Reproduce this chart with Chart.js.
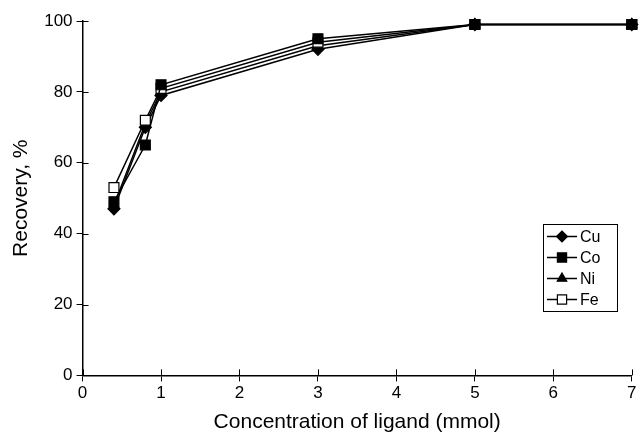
<!DOCTYPE html>
<html>
<head>
<meta charset="utf-8">
<script src="https://cdn.jsdelivr.net/npm/chart.js@4.4.1/dist/chart.umd.min.js"></script>
<style>
  html, body { margin: 0; padding: 0; background: #fff; }
  #wrap { width: 640px; height: 435px; position: relative; }
</style>
</head>
<body>
<div id="wrap"><canvas id="recovery-chart"></canvas></div>
<script>
// Recovery vs ligand concentration
const ligand = [0.4, 0.8, 1, 3, 5, 7];
const cu = [47, 70, 79, 92, 99, 99];
const co = [49, 65, 82, 95, 99, 99];
const ni = [48, 71, 80, 93, 99, 99];
const fe = [53, 72, 81, 94, 99, 99];

const xTicks = [0, 1, 2, 3, 4, 5, 6, 7];
const yTicks = [0, 20, 40, 60, 80, 100];

const FONT = "'Liberation Sans', Arial, sans-serif";

const toPoints = (vals) => vals.map((v, i) => ({ x: ligand[i], y: v }));

const series = (label, vals, style, fill, radius, order) => ({
  label,
  data: toPoints(vals),
  borderColor: "#000",
  borderWidth: 1.5,
  pointStyle: style,
  pointRadius: radius,
  pointBackgroundColor: fill,
  pointBorderColor: "#000",
  pointBorderWidth: 1.2,
  clip: false,
  order,
});

// inward tick marks and the boxed legend
const extras = {
  id: "extras",
  afterDraw(chart) {
    const { ctx, chartArea, scales } = chart;
    ctx.save();
    ctx.strokeStyle = "#000";
    ctx.lineWidth = 1;
    xTicks.forEach((t) => {
      const x = Math.round(scales.x.getPixelForValue(t)) + 0.5;
      ctx.beginPath();
      ctx.moveTo(x, chartArea.bottom);
      ctx.lineTo(x, chartArea.bottom - 6);
      ctx.stroke();
    });
    yTicks.forEach((t) => {
      const y = Math.round(scales.y.getPixelForValue(t)) + 0.5;
      ctx.beginPath();
      ctx.moveTo(chartArea.left, y);
      ctx.lineTo(chartArea.left + 6, y);
      ctx.stroke();
    });

    // legend
    const lx = 543, ly = 224, lw = 74, lh = 87;
    ctx.lineWidth = 1;
    ctx.strokeRect(lx + 0.5, ly + 0.5, lw, lh);
    ctx.font = "16px " + FONT;
    ctx.textBaseline = "middle";
    chart.data.datasets.forEach((ds, i) => {
      const y = ly + 12.5 + i * 21;
      ctx.beginPath();
      ctx.lineWidth = 1.5;
      ctx.moveTo(lx + 4, y);
      ctx.lineTo(lx + 34, y);
      ctx.stroke();
      ctx.fillStyle = ds.pointBackgroundColor;
      ctx.lineWidth = 1.2;
      Chart.helpers.drawPoint(ctx, { pointStyle: ds.pointStyle, radius: ds.pointRadius - 0.5, borderWidth: 1.2 }, lx + 19, y);
      ctx.fillStyle = "#000";
      ctx.fillText(ds.label, lx + 37, y + 1);
    });
    ctx.restore();
  },
};

new Chart(document.getElementById("recovery-chart"), {
  type: "line",
  data: {
    datasets: [
      series("Cu", cu, "rectRot", "#000", 6, 4),
      series("Co", co, "rect", "#000", 7, 1),
      series("Ni", ni, "triangle", "#000", 6, 3),
      series("Fe", fe, "rect", "#fff", 7, 2),
    ],
  },
  options: {
    responsive: true,
    maintainAspectRatio: false,
    animation: false,
    layout: { padding: { top: 21, right: 0, left: 1, bottom: 0 } },
    plugins: {
      legend: { display: false },
      tooltip: { enabled: false },
    },
    scales: {
      x: {
        type: "linear",
        min: 0,
        max: 7,
        afterBuildTicks: (axis) => { axis.ticks = xTicks.map((v) => ({ value: v })); },
        grid: { drawOnChartArea: false, color: "#000", tickLength: 6, tickColor: "#000" },
        border: { color: "#000", width: 1.5 },
        ticks: { color: "#000", font: { family: FONT, size: 17 }, padding: 2, maxRotation: 0 },
        title: {
          display: true,
          text: "Concentration of ligand (mmol)",
          color: "#000",
          font: { family: FONT, size: 21 },
          padding: { top: 4, bottom: 0 },
        },
      },
      y: {
        min: 0,
        max: 100,
        afterBuildTicks: (axis) => { axis.ticks = yTicks.map((v) => ({ value: v })); },
        grid: { drawOnChartArea: false, color: "#000", tickLength: 6, tickColor: "#000" },
        border: { color: "#000", width: 1.5 },
        ticks: { color: "#000", font: { family: FONT, size: 17 }, padding: 4 },
        title: {
          display: true,
          text: "Recovery, %",
          color: "#000",
          font: { family: FONT, size: 21 },
          padding: { top: 8, bottom: 6 },
        },
      },
    },
  },
  plugins: [extras],
});
</script>
</body>
</html>
